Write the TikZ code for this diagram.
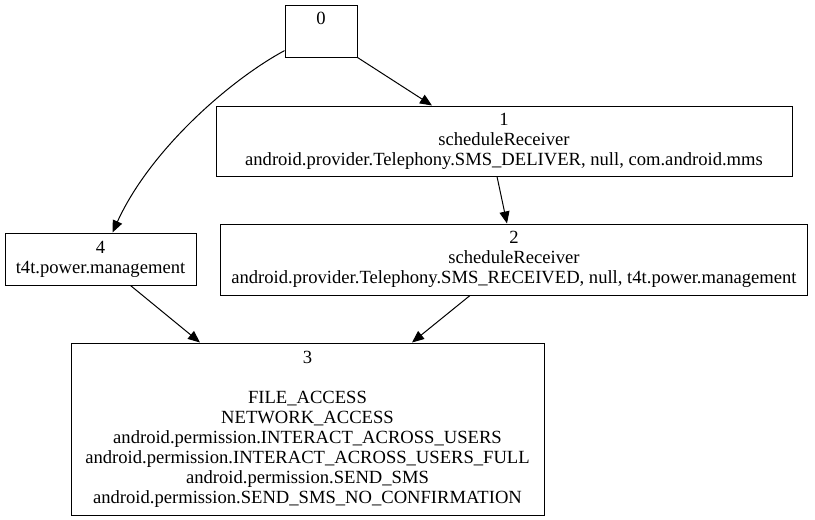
\documentclass[tikz,border=0pt]{standalone}
\usepackage{fontspec}
\setmainfont{Liberation Serif}
\usetikzlibrary{arrows.meta}
\begin{document}
\begin{tikzpicture}[x=1pt,y=-1pt,
  box/.style={draw,line width=1pt,inner sep=0pt,align=center,font=\fontsize{18.6}{20}\selectfont},
  edge/.style={line width=1pt,-{Triangle[length=12pt,width=10pt]}}]
\useasboundingbox[fill=white] (0,0) rectangle (815,520);
\node[box,minimum width=72pt,minimum height=52pt] (n0) at (321,31) {0\\ \strut};
\node[box,minimum width=576pt,minimum height=70pt] (n1) at (504,141) {1\\scheduleReceiver\\android.provider.Telephony.SMS\_DELIVER, null, com.android.mms};
\node[box,minimum width=587pt,minimum height=71pt] (n2) at (514,259.5) {2\\scheduleReceiver\\android.provider.Telephony.SMS\_RECEIVED, null, t4t.power.management};
\node[box,minimum width=191pt,minimum height=52pt] (n4) at (100.5,259) {4\\t4t.power.management};
\node[box,minimum width=473pt,minimum height=172pt] (n3) at (307.5,429) {3\\ \strut\\FILE\_ACCESS\\NETWORK\_ACCESS\\android.permission.INTERACT\_ACROSS\_USERS\\android.permission.INTERACT\_ACROSS\_USERS\_FULL\\android.permission.SEND\_SMS\\android.permission.SEND\_SMS\_NO\_CONFIRMATION};
\draw[edge] (n0) .. controls (230,80) and (150,150) .. (n4);
\draw[edge] (n0.south east) -- ([xshift=-72pt]n1.north);
\draw[edge] ([xshift=-7pt]n1.south) -- ([xshift=-7pt]n2.north);
\draw[edge] ([xshift=30pt]n4.south) -- ([xshift=-107.5pt]n3.north);
\draw[edge] ([xshift=-44pt]n2.south) -- ([xshift=104.5pt]n3.north);
\end{tikzpicture}
\end{document}
